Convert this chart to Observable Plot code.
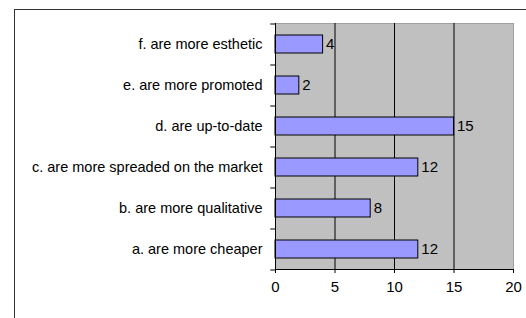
<!DOCTYPE html>
<html>
<head>
<meta charset="utf-8">
<script src="https://cdn.jsdelivr.net/npm/d3@7"></script>
<script src="https://cdn.jsdelivr.net/npm/@observablehq/plot@0.6"></script>
<style>
  html, body { margin: 0; padding: 0; background: #fff; }
  #wrap { position: relative; width: 526px; height: 318px; overflow: hidden; }
  #border { position: absolute; left: 14px; top: 9px; right: -2px; bottom: -2px;
            border-left: 1px solid #333; border-top: 1px solid #333; pointer-events: none; }
</style>
</head>
<body>
<div id="wrap"><div id="border"></div></div>
<script>
const categories = [
  "a. are more cheaper",
  "b. are more qualitative",
  "c. are more spreaded on the market",
  "d. are up-to-date",
  "e. are more promoted",
  "f. are more esthetic"
];
const values = [12, 8, 12, 15, 2, 4];
const xTicks = [0, 5, 10, 15, 20];
const gridValues = [5, 10, 15];

const data = categories.map((c, i) => ({category: c, value: values[i]}));
const step = (318 - 23 - 49) / categories.length;

const chart = Plot.plot({
  width: 526,
  height: 318,
  marginLeft: 275,
  marginRight: 13,
  marginTop: 23,
  marginBottom: 49,
  style: {fontFamily: "'Liberation Sans', Arial, sans-serif", fontSize: "15px", color: "black", background: "transparent"},
  x: {domain: [0, 20], ticks: xTicks},
  y: {domain: categories.slice().reverse(), paddingInner: 0.565, paddingOuter: 0.2825},
  marks: [
    Plot.frame({fill: "#c0c0c0", stroke: "#a0a0a0"}),
    Plot.ruleX(gridValues, {stroke: "black"}),
    Plot.barX(data, {x: "value", y: "category", fill: "#9999ff", stroke: "black"}),
    Plot.text(data, {x: "value", y: "category", text: d => String(d.value), textAnchor: "start", dx: 3, fill: "black", fontSize: 15}),
    Plot.ruleX([0], {stroke: "black"}),
    Plot.frame({anchor: "bottom", stroke: "black"}),
    Plot.ruleY(categories, {y: d => d, x1: -0.4, x2: 0, dy: -step / 2, stroke: "black"}),
    Plot.ruleY([categories[0]], {y: d => d, x1: -0.4, x2: 0, dy: step / 2, stroke: "black"}),
    Plot.axisX({ticks: xTicks, tickSize: 4, tickPadding: 8, label: null, stroke: "black", fill: "black"}),
    Plot.axisY({tickSize: 0, tickPadding: 13, label: null, fill: "black", fontSize: 14.5})
  ]
});
document.getElementById("wrap").prepend(chart);
</script>
</body>
</html>
